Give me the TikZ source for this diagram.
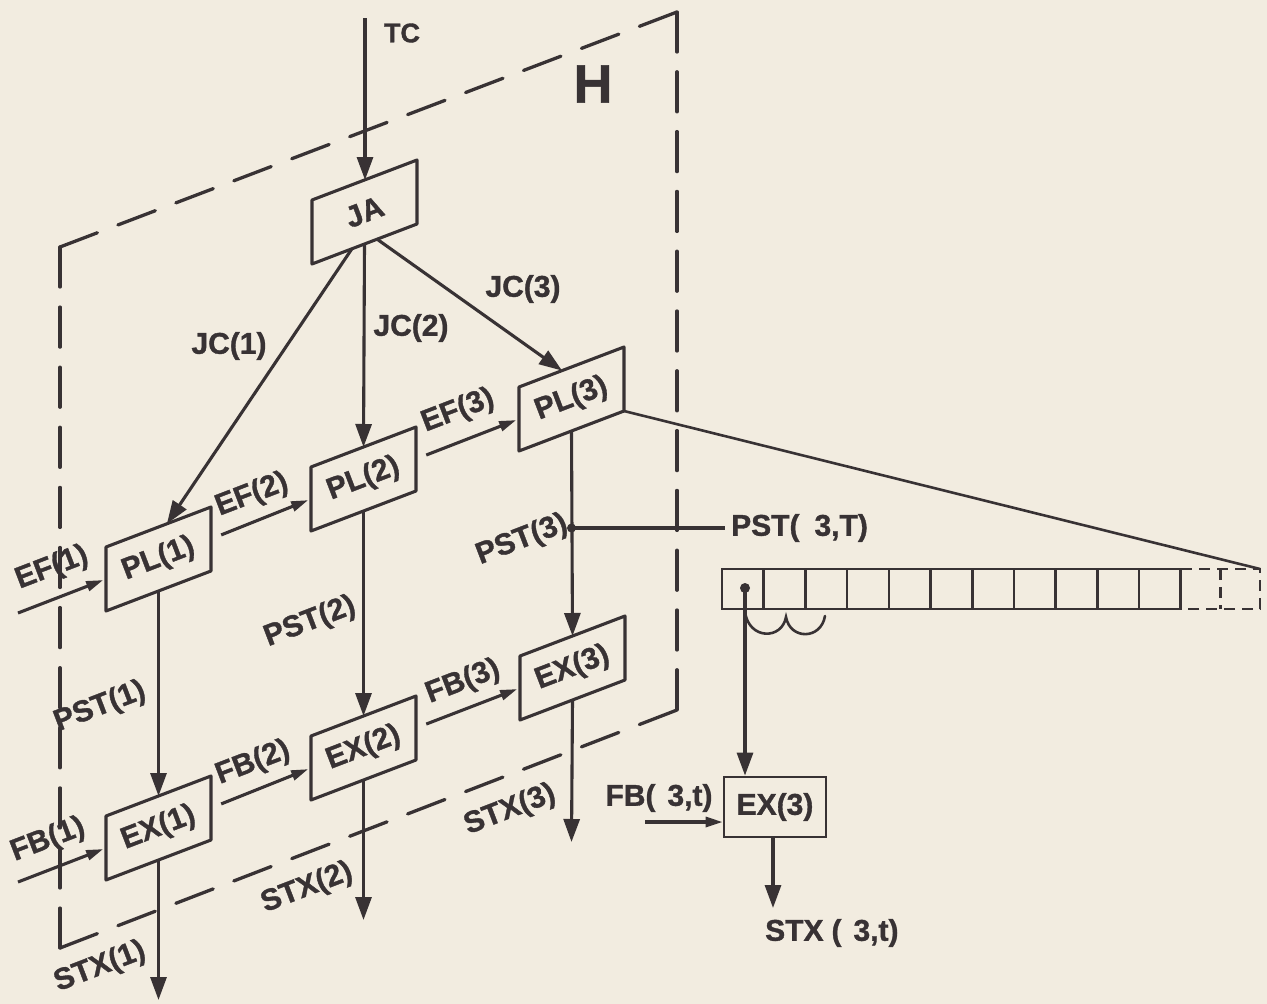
\documentclass[tikz,border=0pt]{standalone}
\usepackage{fontspec}
\setmainfont[BoldFeatures={FakeBold=1.2}]{Liberation Sans}
\usetikzlibrary{arrows.meta,calc}
\definecolor{paper}{RGB}{242,236,224}
\definecolor{ink}{RGB}{56,50,52}
\tikzset{
  ln/.style={draw=ink, line width=3.1pt},
  big/.style={-{Triangle[length=23pt,width=16pt]}},
  small/.style={-{Triangle[length=17pt,width=10pt]}},
  lab/.style={font=\fontsize{30}{36}\selectfont\bfseries, text=ink, inner sep=0pt},
  rlab/.style={lab, rotate=21},
  boxtext/.style={rlab},
  plane/.style={draw=ink, line width=3.3pt, line cap=round},
  reg/.style={draw=ink, line width=2.6pt},
  regdash/.style={reg, dash pattern=on 11pt off 7pt},
}
% oblique box: name, x, y of bottom-left corner, text
\newcommand\obox[4]{%
  \coordinate (#1-bl) at (#2,#3);
  \coordinate (#1-br) at (#2+105,#3-40);
  \coordinate (#1-tr) at (#2+105,#3-104);
  \coordinate (#1-tl) at (#2,#3-64);
  \draw[ln, line join=round] (#1-bl) -- (#1-br) -- (#1-tr) -- (#1-tl) -- cycle;
  \node[boxtext] (#1) at (#2+52.5,#3-52) {#4};
  \coordinate (#1-b) at (#2+52.5,#3-20);
  \coordinate (#1-t) at (#2+52.5,#3-84);
  \coordinate (#1-l) at (#2,#3-32);
  \coordinate (#1-r) at (#2+105,#3-72);
}
\begin{document}
\begin{tikzpicture}[x=1pt,y=-1pt]
\useasboundingbox (0,0) rectangle (1267,1004);
\fill[paper] (0,0) rectangle (1267,1004);

% dashed plane H
\coordinate (hTL) at (60,247);
\coordinate (hTR) at (677,12);
\coordinate (hBR) at (677,710);
\coordinate (hBL) at (60,948);
\draw[plane, dash pattern=on 40pt off 22pt] (hTL) -- (hTR);
\draw[plane, dash pattern=on 40pt off 19.8pt] (hTR) -- (hBR);
\draw[plane, dash pattern=on 40pt off 22.1pt] (hBL) -- (hBR);
\draw[plane, dash pattern=on 40pt off 20.1pt] (hTL) -- (hBL);
\node[lab, font=\fontsize{54}{60}\selectfont\bfseries] (H) at (593,84) {H};

% boxes
\obox{JA}{312}{264}{JA}
\obox{PL1}{106}{611}{PL(1)}
\obox{PL2}{311}{531}{PL(2)}
\obox{PL3}{519}{451}{PL(3)}
\obox{EX1}{106}{880}{EX(1)}
\obox{EX2}{311}{800}{EX(2)}
\obox{EX3}{520}{720}{EX(3)}

% TC
\coordinate (tc) at (365,18);
\draw[ln,big] (tc) -- (tc |- JA-t);
\node[lab, font=\fontsize{27}{32}\selectfont\bfseries] (TC) at (402,33) {TC};

% JC arrows
\draw[ln,big] ($(JA-bl)!0.38!(JA-br)$) -- ($(PL1-tl)!0.58!(PL1-tr)$);
\draw[ln,big] (JA-b) -- (PL2-t);
\draw[ln,big] ($(JA-bl)!0.62!(JA-br)$) -- ($(PL3-tl)!0.41!(PL3-tr)$);
\node[lab] (jc1) at (229,346) {JC(1)};
\node[lab] (jc2) at (411,328) {JC(2)};
\node[lab] (jc3) at (523,289) {JC(3)};

% EF arrows
\coordinate (ef1s) at (18,613);
\draw[ln,small,shorten >=3pt] (ef1s) -- (PL1-l);
\draw[ln,small,shorten <=11pt,shorten >=3pt] (PL1-r) -- (PL2-l);
\draw[ln,small,shorten <=11pt,shorten >=3pt] (PL2-r) -- (PL3-l);
\node[rlab] (ef1) at (52,568) {EF(1)};
\node[rlab] (ef2) at (252,495) {EF(2)};
\node[rlab] (ef3) at (458,411) {EF(3)};

% FB arrows
\coordinate (fb1s) at (18,882);
\draw[ln,small,shorten >=3pt] (fb1s) -- (EX1-l);
\draw[ln,small,shorten <=11pt,shorten >=3pt] (EX1-r) -- (EX2-l);
\draw[ln,small,shorten <=11pt,shorten >=3pt] (EX2-r) -- (EX3-l);
\node[rlab] (fb1) at (48,840) {FB(1)};
\node[rlab] (fb2) at (253,763) {FB(2)};
\node[rlab] (fb3) at (463,682) {FB(3)};

% PST arrows
\draw[ln,big] (PL1-b) -- (EX1-t);
\draw[ln,big] (PL2-b) -- (EX2-t);
\draw[ln,big] (PL3-b) -- (EX3-t);
\node[rlab] (pst1) at (100,707) {PST(1)};
\node[rlab] (pst2) at (310,622) {PST(2)};
\node[rlab] (pst3) at (522,540) {PST(3)};

% STX arrows
\coordinate (stx1e) at (158.5,1000);
\coordinate (stx2e) at (363.5,920);
\coordinate (stx3e) at (571.5,842);
\draw[ln,big] (EX1-b) -- (stx1e);
\draw[ln,big] (EX2-b) -- (stx2e);
\draw[ln,big] (EX3-b) -- (stx3e);
\node[rlab] (stx1) at (100,967) {STX(1)};
\node[rlab] (stx2) at (307,888) {STX(2)};
\node[rlab] (stx3) at (510,810) {STX(3)};

% PST(3,T) tap
\coordinate (j3) at (571.5,528);
\coordinate (j3e) at (725,528);
\fill[ink] (j3) circle (4.5pt);
\draw[ln] (j3) -- (j3e);
\node[lab, anchor=west] (pst3T) at (731,528) {PST(\hspace{15pt}3,T)};

% register
\foreach \i in {0,...,10} {
  \draw[reg] (722+\i*41.7,569) rectangle (722+\i*41.7+41.7,609);
}
\coordinate (regR) at (1260,569);
\draw[regdash] (1181,569) -- (regR) -- (1260,609) -- (1181,609);
\draw[regdash] (1220.5,569) -- (1220.5,609);
\draw[ln, line width=2.6pt] (PL3-br) -- (regR);
\coordinate (regdot) at (745,588);
\fill[ink] (regdot) circle (5pt);
\draw[reg, line cap=round] (745,612) .. controls (749,640) and (782,640) .. (786,617)
  .. controls (790,640) and (821,640) .. (825,616);

% expanded EX(3)
\node[draw=ink, line width=2.8pt, lab, inner sep=0pt, minimum width=102pt, minimum height=60pt] (rex) at (775,807) {EX(3)};
\draw[ln,big] (regdot) -- (regdot |- rex.north);
\coordinate (fbts) at (645,822);
\draw[ln,small] (fbts) -- (fbts -| rex.west);
\node[lab] (fbt) at (659,798) {FB(\hspace{12pt}3,t)};
\coordinate (rexo) at (773,837);
\coordinate (stxte) at (773,908);
\draw[ln,big] (rexo) -- (stxte);
\node[lab, anchor=west] (stxt) at (765,933) {STX\hspace{8pt}(\hspace{12pt}3,t)};
\end{tikzpicture}
\end{document}
